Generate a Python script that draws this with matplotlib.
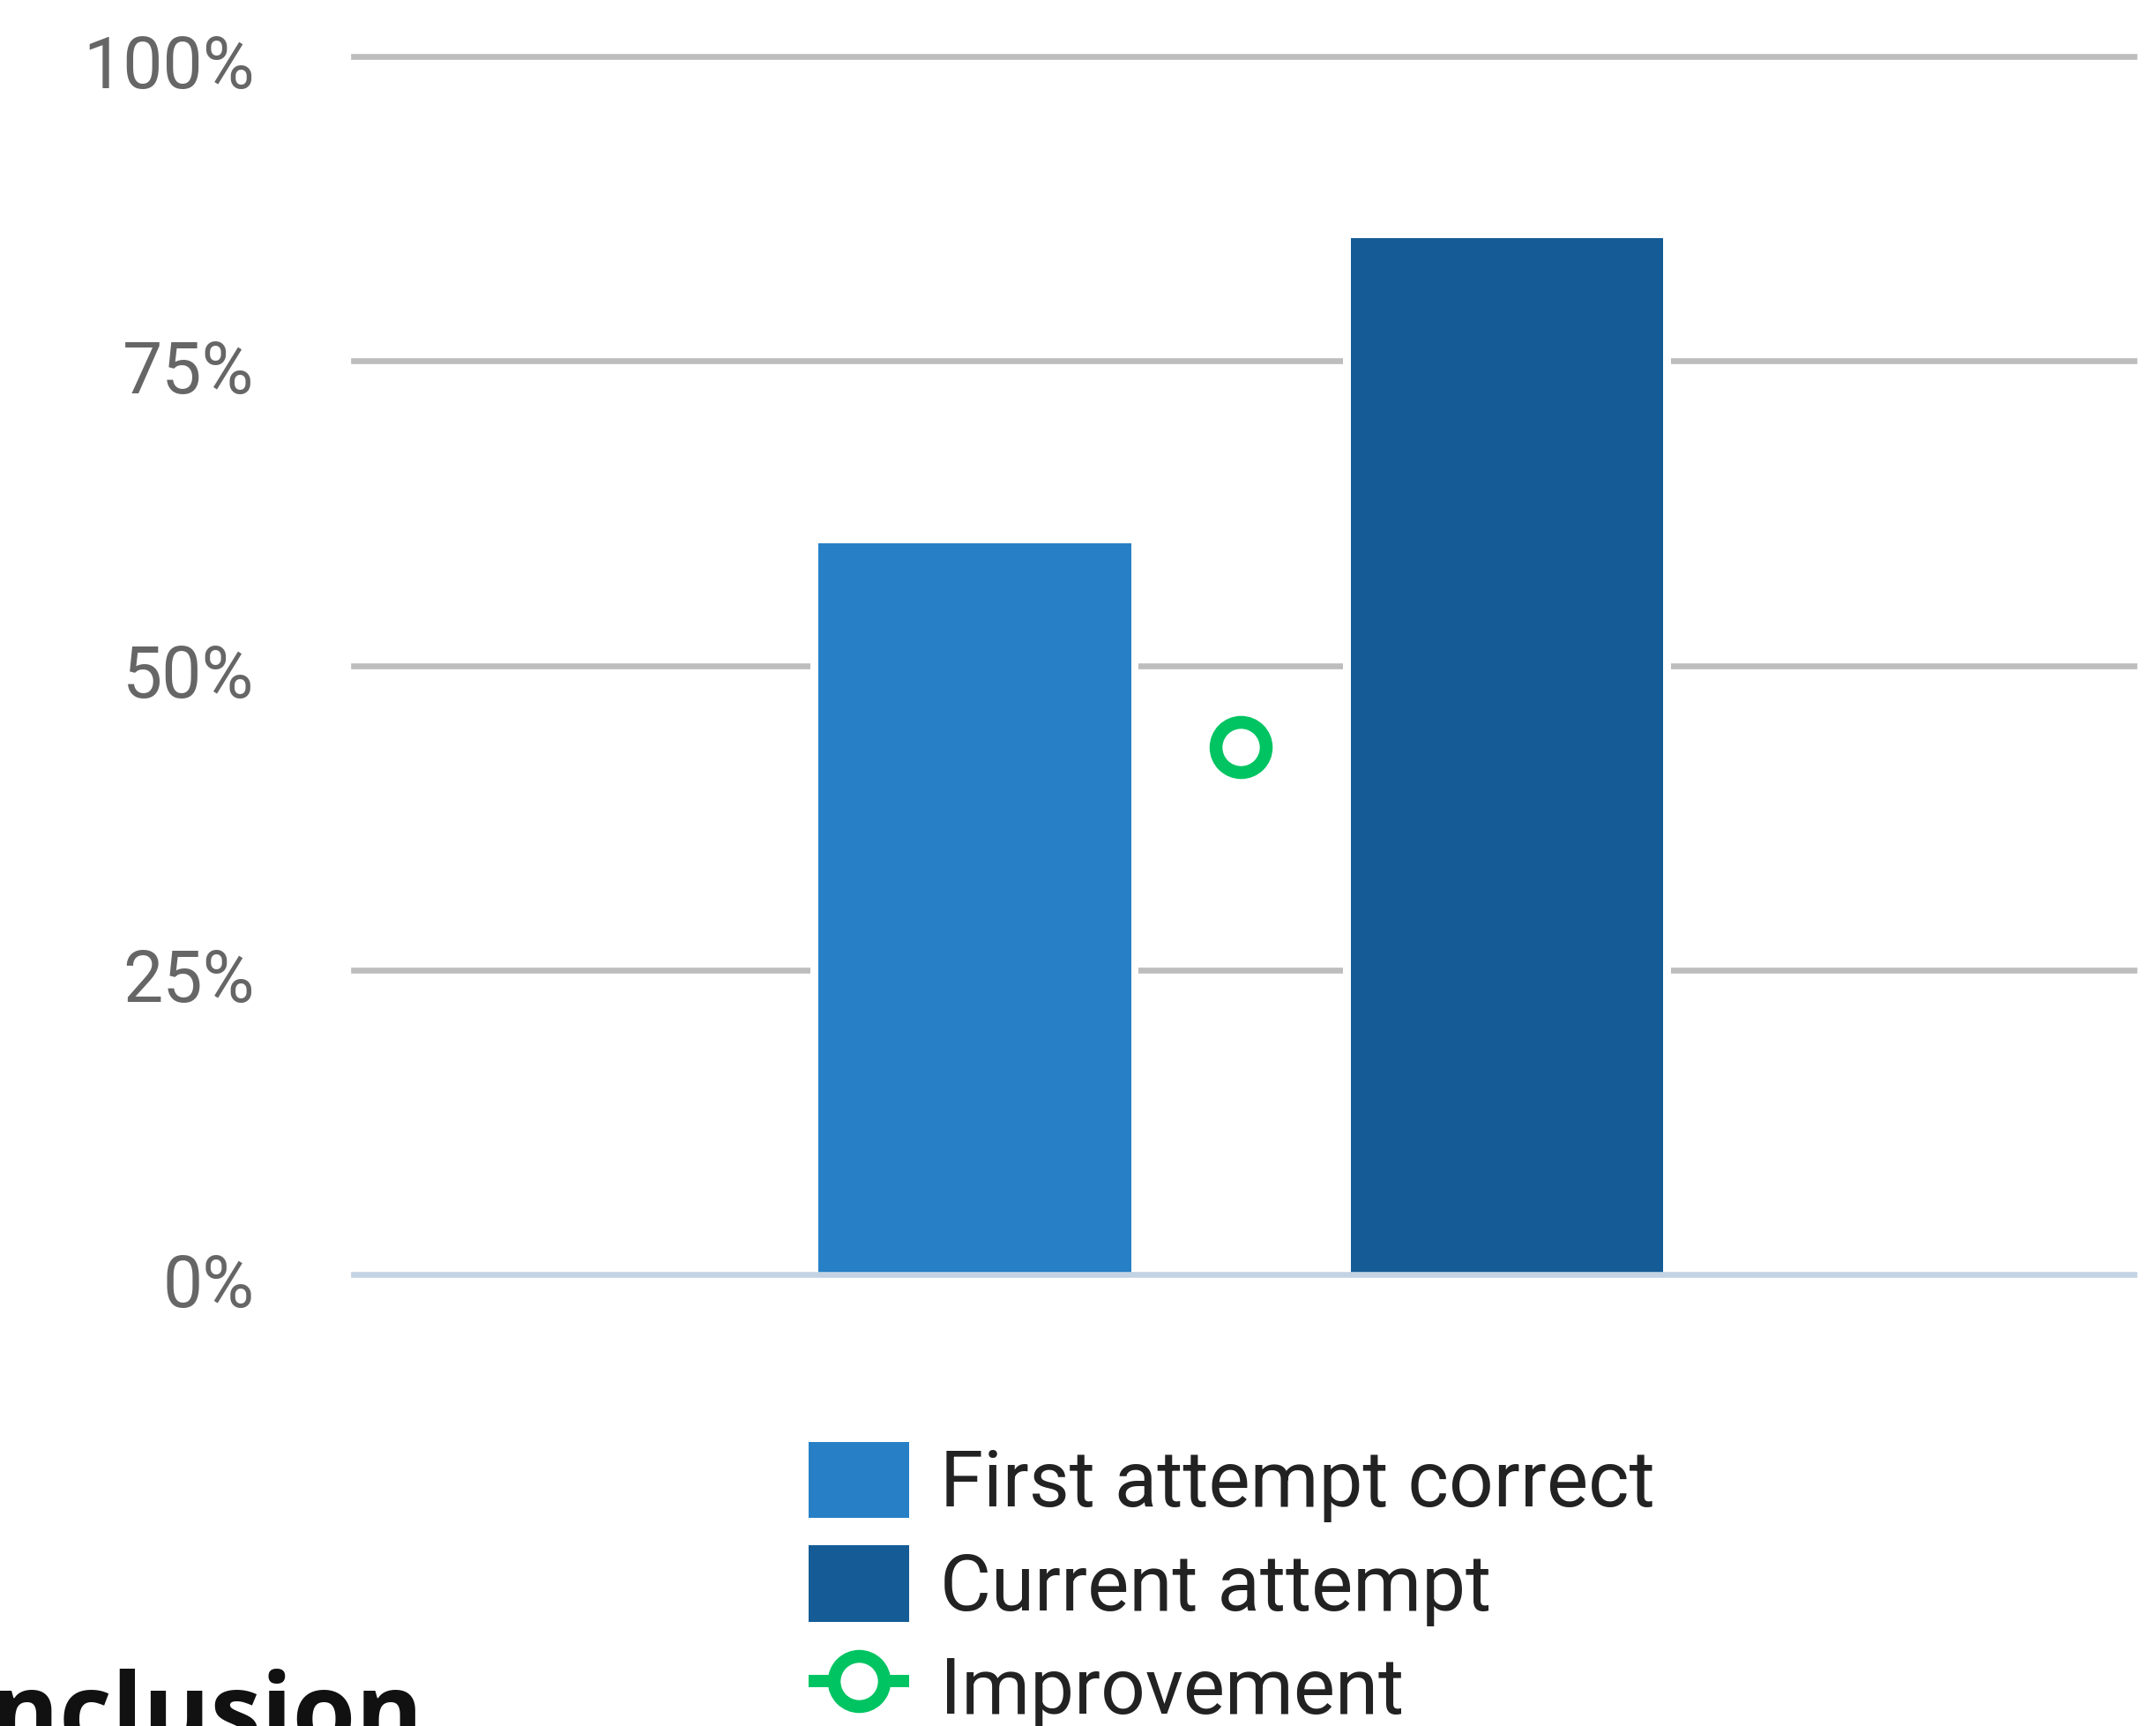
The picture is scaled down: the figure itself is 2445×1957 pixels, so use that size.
import numpy as np
import matplotlib.pyplot as plt
from matplotlib.patches import Patch
from matplotlib.lines import Line2D
from matplotlib.transforms import ScaledTranslation

# values (percent)
series = ["First attempt correct", "Current attempt"]
values = [60.0, 85.1]
improvement = 43.3
colors = ["#2780c6", "#155c96"]
green = "#00c462"
yticks = [0, 25, 50, 75, 100]
ytick_labels = ["0%", "25%", "50%", "75%", "100%"]

plt.rcParams["font.family"] = ["Roboto", "DejaVu Sans"]

fig = plt.figure(figsize=(24.45, 19.57), dpi=100)
ax = fig.add_axes([0.1640, 0.2616, 0.8258, 0.7057])

x = np.arange(len(series))
width = 0.588
# white halo so gridlines stop short of the bars
ax.bar(x, values, width + 0.028, color="white", zorder=2)
ax.bar(x, values, width, color=colors, zorder=3)
ax.plot([x.mean()], [improvement], "o", ms=41, mfc="none", mec=green,
        mew=10.5, zorder=4)

for t in yticks[1:]:
    ax.axhline(t, color="#bdbdbd", lw=4.8, zorder=1, clip_on=False)
ax.axhline(0, color="#c4d3e3", lw=4.8, zorder=5, clip_on=False)

ax.set_xlim(-1.167, 2.178)
ax.set_ylim(0, 100)
ax.set_xticks([])
ax.set_yticks(yticks, ytick_labels)
ax.tick_params(axis="y", length=0, pad=81, labelsize=58, labelcolor="#666666")
shift = ScaledTranslation(0, -6 / 100, fig.dpi_scale_trans)
for lab in ax.get_yticklabels():
    lab.set_transform(lab.get_transform() + shift)
for s in ax.spines.values():
    s.set_visible(False)

handles = [
    Patch(facecolor=colors[0], edgecolor="none"),
    Patch(facecolor=colors[1], edgecolor="none"),
    Line2D([], [], color=green, lw=10, marker="o", ms=41, mfc="white",
           mec=green, mew=10.5, solid_capstyle="butt"),
]
fig.legend(
    handles, series + ["Improvement"],
    loc="upper left",
    bbox_to_anchor=(0.375, 1 - 1635 / 1957),
    frameon=False,
    fontsize=64,
    handlelength=1.28,
    handleheight=1.12,
    handletextpad=0.4,
    labelspacing=0.29,
    borderpad=0,
    borderaxespad=0,
    labelcolor="#222222",
)

fig.text(480 / 2445, 1 - 1981 / 1957, "Conclusion", ha="right",
         va="baseline", fontsize=83.5, fontweight="bold",
         family=["Open Sans", "DejaVu Sans"], color="#111111")

fig.savefig("out.png", dpi=100, facecolor="white")
